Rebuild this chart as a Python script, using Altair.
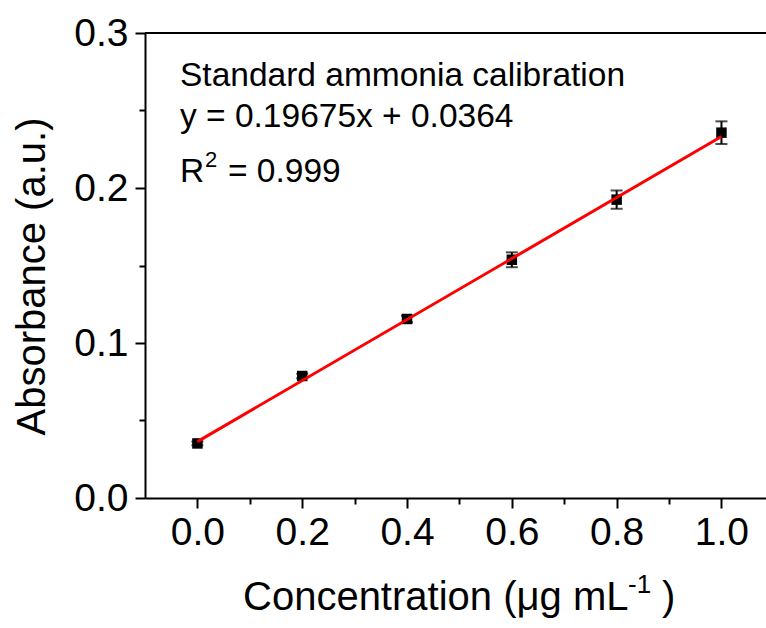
import altair as alt
import pandas as pd

# Data
conc = [0.0, 0.2, 0.4, 0.6, 0.8, 1.0]
absorb = [0.0352, 0.0787, 0.1155, 0.1537, 0.1925, 0.2357]
err = [0.0012, 0.0015, 0.0022, 0.0048, 0.0059, 0.0073]
fit_x = [0.0, 1.0]
fit_y = [0.0364, 0.2332]

x_ticks = [0.0, 0.1, 0.2, 0.3, 0.4, 0.5, 0.6, 0.7, 0.8, 0.9, 1.0]
y_ticks = [0.0, 0.05, 0.1, 0.15, 0.2, 0.25, 0.3]

FONT = "Liberation Sans"
W, H = 621, 465

df = pd.DataFrame({
    "x": conc,
    "y": absorb,
    "lo": [a - e for a, e in zip(absorb, err)],
    "hi": [a + e for a, e in zip(absorb, err)],
})
fit = pd.DataFrame({"x": fit_x, "y": fit_y})

xs = alt.Scale(domain=[-0.1, 1.085], nice=False, zero=False)
ys = alt.Scale(domain=[0, 0.3], nice=False, zero=False)

x_axis = alt.Axis(
    values=x_ticks, title=None, grid=False,
    labelExpr="round(datum.value*10)%2==0 ? format(datum.value, '.1f') : ''",
    tickSize={"condition": {"test": "round(datum.value*10)%2==0", "value": 10}, "value": 6},
    tickWidth=2, tickColor="black", domainColor="black", domainWidth=2,
    labelFont=FONT, labelFontSize=39, labelColor="black", labelPadding=5,
    labelFlush=False,
)
y_axis = alt.Axis(
    values=y_ticks, title="Absorbance (a.u.)", grid=False,
    labelExpr="round(datum.value*20)%2==0 ? format(datum.value, '.1f') : ''",
    tickSize={"condition": {"test": "round(datum.value*20)%2==0", "value": 10}, "value": 6},
    tickWidth=2, tickColor="black", domainColor="black", domainWidth=2,
    labelFont=FONT, labelFontSize=39, labelColor="black", labelPadding=7,
    labelFlush=False,
    titleFont=FONT, titleFontSize=40, titleFontWeight="normal", titleColor="black",
    titleAngle=270, titleAlign="center", titleBaseline="alphabetic",
    titleX=-101, titleY=243,
)

base = alt.Chart(df)

bars = base.mark_rule(color="black", strokeWidth=2).encode(
    x=alt.X("x:Q", scale=xs, axis=x_axis),
    y=alt.Y("lo:Q", scale=ys, axis=y_axis),
    y2="hi:Q",
)
cap_lo = base.mark_tick(color="black", orient="horizontal", size=12, thickness=2).encode(
    x=alt.X("x:Q", scale=xs), y=alt.Y("lo:Q", scale=ys))
cap_hi = base.mark_tick(color="black", orient="horizontal", size=12, thickness=2).encode(
    x=alt.X("x:Q", scale=xs), y=alt.Y("hi:Q", scale=ys))
pts = base.mark_square(color="black", size=110, opacity=1).encode(
    x=alt.X("x:Q", scale=xs), y=alt.Y("y:Q", scale=ys))
line = alt.Chart(fit).mark_line(color="#FF0000", strokeWidth=3).encode(
    x=alt.X("x:Q", scale=xs), y=alt.Y("y:Q", scale=ys))

frame_top = alt.Chart(df).mark_rule(color="black", strokeWidth=2).encode(
    x=alt.value(0), x2=alt.value(W), y=alt.value(0))


def txt(s, x, y, size, align="left"):
    return alt.Chart(pd.DataFrame({"t": [s]})).mark_text(
        font=FONT, fontSize=size, color="black", align=align, baseline="alphabetic"
    ).encode(text="t:N", x=alt.value(x), y=alt.value(y))


annot = [
    txt("Standard ammonia calibration", 35, 52.7, 33.5),
    txt("y = 0.19675x + 0.0364", 35, 94, 33.5),
    txt("R", 35, 149, 33.5),
    txt("2", 60, 134, 22),
    txt("= 0.999", 83, 149, 33.5),
    txt("Concentration (\u03bcg mL", 98, 577, 40),
    txt("-1", 483, 560, 26),
    txt(")", 517, 577, 40),
]

chart = alt.layer(bars, cap_lo, cap_hi, pts, line, frame_top, *annot).properties(
    width=W, height=H,
    autosize=alt.AutoSizeParams(type="none"),
    padding={"left": 145, "top": 33, "right": 0, "bottom": 130},
).configure_view(stroke=None).configure(background="white")

chart.save("out.html", embed_options={"renderer": "svg", "actions": False})
